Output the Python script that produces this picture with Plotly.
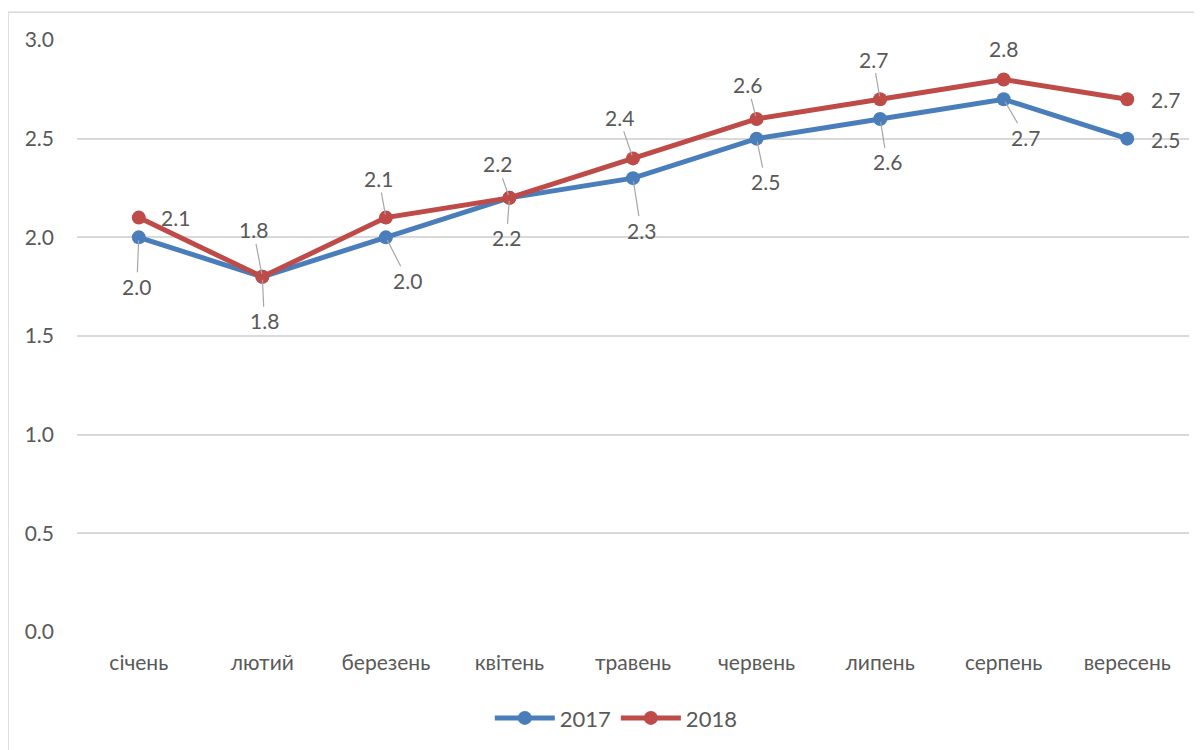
import plotly.graph_objects as go

months = ["січень", "лютий", "березень", "квітень", "травень", "червень", "липень", "серпень", "вересень"]
values_2017 = [2.0, 1.8, 2.0, 2.2, 2.3, 2.5, 2.6, 2.7, 2.5]
values_2018 = [2.1, 1.8, 2.1, 2.2, 2.4, 2.6, 2.7, 2.8, 2.7]
y_ticks = [0.0, 0.5, 1.0, 1.5, 2.0, 2.5, 3.0]

# label offsets in pixels (dx, dy screen) and whether a leader line is drawn
off_2017 = [(-2, 49, True), (2, 44, True), (22, 43, True), (-3, 40, True), (8, 52, True),
            (9, 43, True), (7, 43, True), (22, 38, True), (38, 1, False)]
off_2018 = [(37, 0, False), (-9, -47, True), (-7, -39, True), (-12, -34, True), (-14, -41, True),
            (-9, -34, True), (-7, -40, True), (0, -31, False), (38, 0, False)]

BLUE = "#4A7EBB"
RED = "#BE4B48"
TXT = "#595959"
FONT = "Lato, Carlito, Calibri, Open Sans, sans-serif"

fig = go.Figure()
fig.add_trace(go.Scatter(x=months, y=values_2017, name="2017", mode="lines+markers",
                         line=dict(color=BLUE, width=5), marker=dict(size=14, color=BLUE)))
fig.add_trace(go.Scatter(x=months, y=values_2018, name="2018", mode="lines+markers",
                         line=dict(color=RED, width=5), marker=dict(size=14, color=RED)))

annotations = []
for vals, offs in ((values_2017, off_2017), (values_2018, off_2018)):
    for m, v, (dx, dy, lead) in zip(months, vals, offs):
        annotations.append(dict(
            x=m, y=v, xref="x", yref="y", text=f"{v:.1f}",
            showarrow=True, ax=dx, ay=dy, axref="pixel", ayref="pixel",
            arrowhead=0, arrowwidth=1.2,
            arrowcolor="#A6A6A6" if lead else "rgba(0,0,0,0)",
            standoff=3, startstandoff=0,
            font=dict(family=FONT, size=21, color=TXT)))

fig.update_layout(
    width=1195, height=743,
    margin=dict(l=69, r=14, t=32, b=117),
    paper_bgcolor="white", plot_bgcolor="white",
    font=dict(family=FONT, size=21, color=TXT),
    showlegend=True,
    legend=dict(orientation="h", x=0.485, xanchor="center", y=-0.11, yanchor="top",
                font=dict(family=FONT, size=22, color=TXT), itemwidth=60, traceorder="normal"),
    annotations=annotations,
    shapes=[dict(type="rect", xref="paper", yref="paper", x0=-0.062, x1=1.2, y0=-0.5, y1=1.047,
                 line=dict(color="#D9D9D9", width=1.5), fillcolor="rgba(0,0,0,0)", layer="below")],
)
fig.update_xaxes(type="category", range=[-0.5, 8.5], showgrid=False, zeroline=False, showline=False,
                 ticks="", ticklabelstandoff=16, tickfont=dict(family=FONT, size=21, color=TXT))
fig.update_yaxes(range=[0, 3], tickvals=y_ticks, ticktext=[f"{t:.1f}" for t in y_ticks],
                 showgrid=True, gridcolor="#D9D9D9", gridwidth=1.5, zeroline=False, showline=False,
                 ticks="", ticklabelstandoff=22, tickfont=dict(family=FONT, size=21, color=TXT))

fig.write_html("out.html")
